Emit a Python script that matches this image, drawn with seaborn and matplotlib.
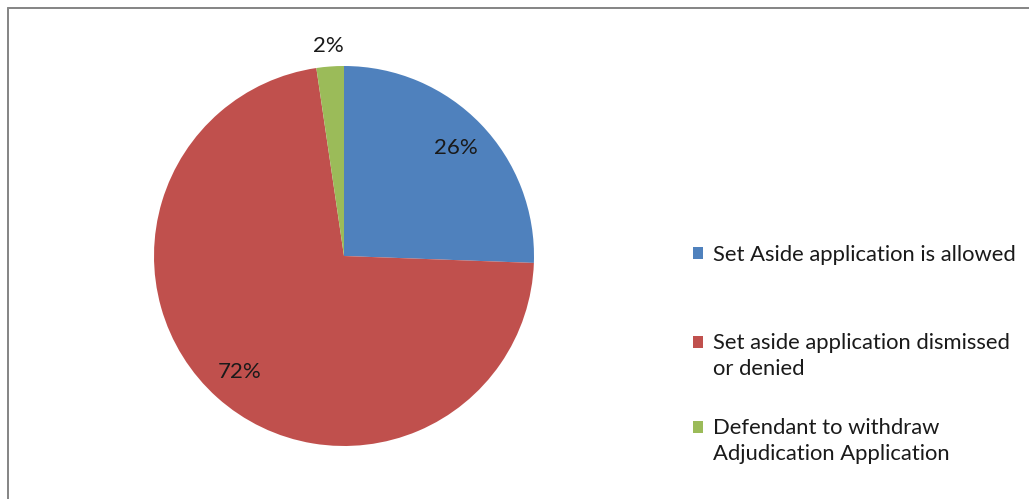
import matplotlib
matplotlib.use("Agg")
import matplotlib.pyplot as plt
from matplotlib.lines import Line2D
from matplotlib.patches import Rectangle
import numpy as np
import seaborn as sns

categories = ["Set Aside application is allowed",
              "Set aside application dismissed\nor denied",
              "Defendant to withdraw\nAdjudication Application"]
counts = [11, 31, 1]
colors = ["#4F81BD", "#C0504D", "#9BBB59"]

sns.set_style("white")
plt.rcParams['font.family'] = ['Lato', 'DejaVu Sans']

W, H = 1029, 499
fig = plt.figure(figsize=(W / 100, H / 100), dpi=100)
fig.patch.set_facecolor("white")

cx, cy, r = 344, 256, 190
ax = fig.add_axes([(cx - r) / W, (H - cy - r) / H, 2 * r / W, 2 * r / H])
wedges, _ = ax.pie(counts, colors=colors, startangle=90, counterclock=False,
                   radius=1.0, wedgeprops=dict(linewidth=0))
ax.set_xlim(-1, 1)
ax.set_ylim(-1, 1)
ax.set_aspect("equal")
ax.axis("off")

total = sum(counts)
for w, v in zip(wedges, counts):
    mid = np.deg2rad((w.theta1 + w.theta2) / 2)
    p = 100 * v / total
    d = 0.82 if p > 5 else 1.11
    ax.text(d * np.cos(mid), d * np.sin(mid), f"{p:.0f}%", ha="center", va="center",
            fontsize=16, color="#1a1a1a", clip_on=False)

fs = 15.8
fpx = fs / 72 * 100
line_px = 27
common = dict(frameon=False, loc="center left", borderpad=0, borderaxespad=0,
              handlelength=10 / fpx, handleheight=10 / fpx, handletextpad=10 / fpx,
              fontsize=fs, labelcolor="#1a1a1a", labelspacing=(line_px - fpx) / fpx)
blank = Rectangle((0, 0), 1, 1, facecolor="none", edgecolor="none")
centers = [255, 356, 441]
for w, lab, yc in zip(wedges, categories, centers):
    lines = lab.split("\n")
    hs = [w] + [blank] * (len(lines) - 1)
    fig.legend(hs, lines, bbox_to_anchor=(693 / W, 1 - yc / H), **common)

gray = "#878787"
lw = 2 * 0.72
fig.add_artist(Line2D([8 / W, 1], [1 - 8 / H, 1 - 8 / H], color=gray, lw=lw,
                      transform=fig.transFigure))
fig.add_artist(Line2D([8 / W, 8 / W], [0, 1 - 8 / H], color=gray, lw=lw,
                      transform=fig.transFigure))

fig.savefig("out.png", dpi=100, facecolor="white")
